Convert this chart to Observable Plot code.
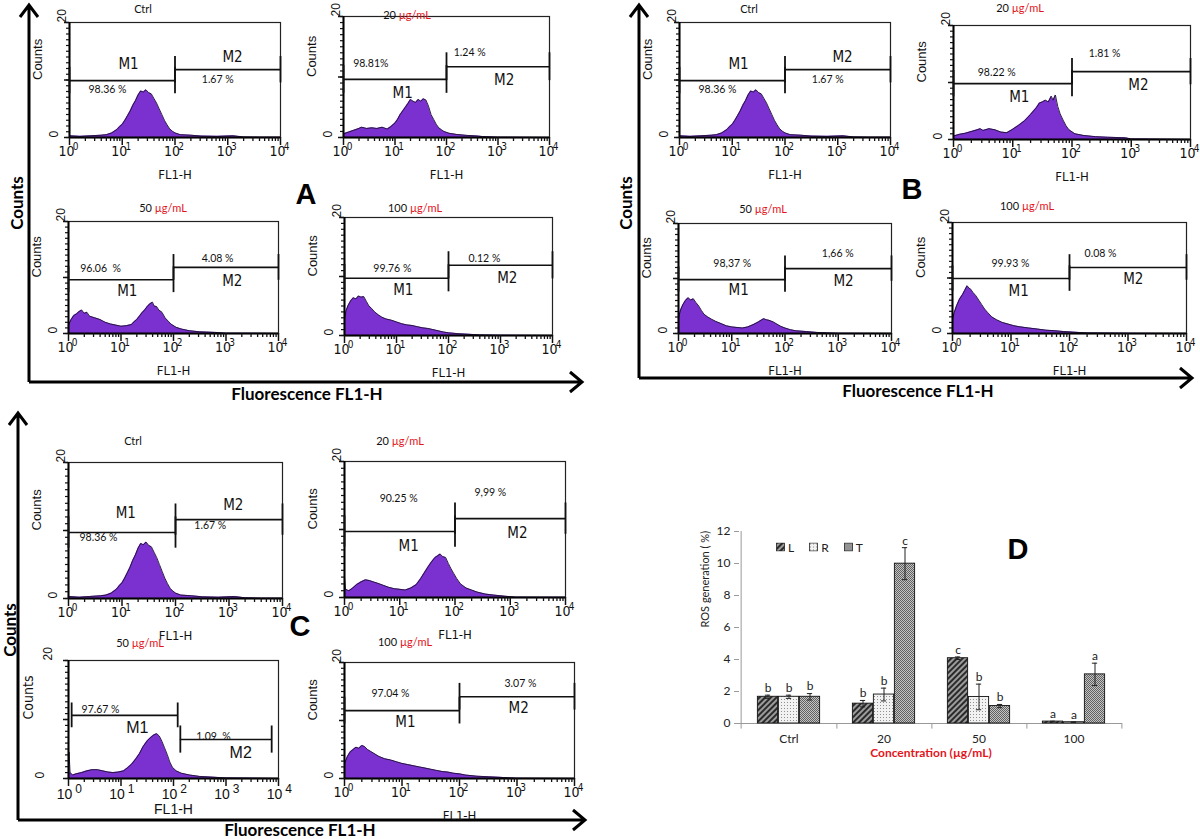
<!DOCTYPE html>
<html><head><meta charset="utf-8">
<script src="https://cdn.jsdelivr.net/npm/d3@7"></script>
<script src="https://cdn.jsdelivr.net/npm/@observablehq/plot@0.6"></script>
<style>
body{margin:0;background:#fff;}
#root{position:relative;width:1200px;height:839px;overflow:hidden;background:#fff;font-family:Lato,"Open Sans",sans-serif;}
.abs{position:absolute;}
.ttl{position:absolute;font-size:11px;font-family:Lato,sans-serif;transform:translate(-50%,-50%);white-space:nowrap;color:#111;}
.red{color:#e3141c;}
.big{position:absolute;font-family:Lato,sans-serif;font-weight:bold;font-size:17px;line-height:17px;white-space:nowrap;transform:translate(-50%,-50%);color:#000;}
.rot{transform:translate(-50%,-50%) rotate(-90deg);}
.letter{position:absolute;font-family:"Liberation Sans",Arial,sans-serif;font-weight:bold;font-size:29px;transform:translate(-50%,-50%);color:#000;}
.leg{position:absolute;display:flex;align-items:center;font-family:Lato,sans-serif;font-size:12px;color:#222;gap:3px;transform:translateY(-50%);}
</style>
</head>
<body>
<div id="root">
<svg style="position:absolute;width:0;height:0" aria-hidden="true">
 <defs>
  <pattern id="patL" width="4" height="4" patternUnits="userSpaceOnUse" patternTransform="rotate(45)">
   <rect width="4" height="4" fill="#9c9c9c"/><rect width="2" height="4" fill="#2a2a2a"/>
  </pattern>
  <pattern id="patR" width="3" height="3" patternUnits="userSpaceOnUse">
   <rect width="3" height="3" fill="#f2f2f2"/><rect x="1" y="1" width="1" height="1" fill="#8f8f8f"/>
  </pattern>
  <pattern id="patT" width="2" height="2" patternUnits="userSpaceOnUse">
   <rect width="2" height="2" fill="#c4c4c4"/><rect width="1" height="1" fill="#616161"/><rect x="1" y="1" width="1" height="1" fill="#616161"/>
  </pattern>
 </defs>
</svg>
<svg class="abs" width="1200" height="839" style="left:0;top:0" fill="none" stroke="#000" stroke-width="3">
 <path d="M29,382 V6 M20,17 L29,5 L38,17"/>
 <path d="M29,382 H581 M570,372 L582,382 L570,392"/>
 <path d="M639,378 V6 M630,17 L639,5 L648,17"/>
 <path d="M639,378 H1191 M1180,368 L1192,378 L1180,388"/>
 <path d="M18,820 V414 M9,425 L18,413 L27,425"/>
 <path d="M18,820 H584 M573,810 L585,820 L573,830"/>
</svg>
<div class="big rot" style="left:16px;top:203px">Counts</div>
<div class="big rot" style="left:625px;top:203px">Counts</div>
<div class="big rot" style="left:9px;top:630px">Counts</div>
<div class="big" style="left:307px;top:393px">Fluorescence FL1-H</div>
<div class="big" style="left:918px;top:390px">Fluorescence FL1-H</div>
<div class="big" style="left:300px;top:829px">Fluorescence FL1-H</div>
<div class="letter" style="left:306px;top:194px">A</div>
<div class="letter" style="left:912px;top:189px">B</div>
<div class="letter" style="left:300px;top:626px">C</div>
<div class="letter" style="left:1018px;top:549px">D</div>
</div>
<script>
// ---------- histogram data (x = log10 FL1-H, y = counts) ----------
const ctrlCounts = [[0,0.3],[0.2,0.2],[0.4,0.3],[0.6,0.4],[0.7,0.5],[0.8,0.8],[0.9,1.4],[0.95,1.9],[1.0,2.3],[1.05,3.0],[1.1,3.8],[1.15,4.6],[1.2,5.6],[1.25,6.4],[1.3,7.4],[1.35,8.1],[1.4,7.9],[1.45,8.3],[1.5,7.8],[1.55,7.6],[1.6,6.8],[1.65,6.0],[1.7,5.0],[1.75,4.0],[1.8,3.0],[1.85,2.2],[1.9,1.5],[1.95,1.1],[2.0,0.8],[2.1,0.5],[2.3,0.4],[2.5,0.25],[2.8,0.2],[3.1,0.3],[3.3,0.1],[3.6,0.05],[4,0.05]];
const a20Counts = [[0,0.6],[0.1,0.9],[0.2,1.2],[0.3,1.5],[0.35,1.7],[0.45,1.5],[0.55,1.6],[0.65,1.5],[0.75,1.7],[0.85,1.4],[0.92,1.8],[1.0,2.4],[1.05,3.0],[1.1,3.8],[1.15,4.4],[1.2,5.0],[1.25,5.6],[1.3,6.3],[1.35,6.0],[1.4,5.8],[1.45,6.3],[1.5,6.0],[1.55,6.4],[1.6,6.2],[1.65,5.2],[1.7,3.8],[1.75,3.0],[1.8,2.2],[1.85,1.6],[1.9,1.3],[1.95,1.0],[2.05,0.7],[2.2,0.5],[2.4,0.35],[2.6,0.25],[2.7,0.15],[3.0,0.05],[4,0.02]];
const a50Counts = [[0,1.5],[0.05,2.5],[0.1,3.2],[0.15,3.5],[0.2,3.9],[0.25,4.2],[0.3,3.6],[0.35,3.8],[0.4,3.1],[0.5,2.8],[0.6,2.5],[0.7,2.0],[0.8,1.7],[0.9,1.5],[1.0,1.3],[1.1,1.4],[1.2,1.6],[1.25,2.1],[1.3,2.5],[1.35,3.1],[1.4,3.7],[1.45,4.2],[1.5,4.8],[1.55,5.3],[1.6,5.6],[1.63,4.9],[1.68,4.8],[1.72,4.2],[1.78,3.8],[1.84,2.8],[1.9,2.2],[1.95,1.7],[2.05,1.1],[2.15,0.8],[2.3,0.5],[2.5,0.3],[2.8,0.2],[3.0,0.05],[4,0.02]];
const a100Counts = [[0,2.8],[0.03,4.2],[0.07,5.1],[0.12,5.9],[0.17,6.4],[0.22,6.2],[0.27,6.7],[0.32,6.5],[0.37,6.6],[0.42,5.8],[0.47,5.0],[0.52,4.6],[0.58,4.0],[0.65,3.5],[0.72,3.1],[0.8,2.8],[0.9,2.6],[1.0,2.3],[1.1,2.0],[1.2,1.8],[1.3,1.7],[1.4,1.5],[1.5,1.3],[1.6,1.2],[1.7,1.0],[1.8,0.8],[1.9,0.6],[2.0,0.45],[2.2,0.3],[2.4,0.2],[2.6,0.1],[3,0.03],[4,0.02]];
const b20Counts = [[0,0.6],[0.1,0.9],[0.2,1.1],[0.3,1.4],[0.4,1.7],[0.45,1.9],[0.5,1.6],[0.6,1.9],[0.7,1.7],[0.8,1.3],[0.9,1.2],[1.0,1.8],[1.1,2.5],[1.2,3.3],[1.3,4.4],[1.4,5.6],[1.45,6.4],[1.5,6.6],[1.55,6.9],[1.6,6.6],[1.65,7.6],[1.68,6.9],[1.72,7.8],[1.76,5.8],[1.8,4.5],[1.85,3.4],[1.9,2.4],[1.95,1.7],[2.05,1.0],[2.2,0.7],[2.4,0.5],[2.6,0.4],[2.9,0.3],[3.0,0.1],[4,0.02]];
const b50Counts = [[0,2.8],[0.04,4.3],[0.08,5.2],[0.13,6.0],[0.18,6.5],[0.23,6.1],[0.28,6.3],[0.33,5.6],[0.38,5.0],[0.43,4.2],[0.48,3.5],[0.55,3.0],[0.62,2.6],[0.7,2.2],[0.8,1.8],[0.9,1.4],[1.0,1.2],[1.1,1.1],[1.2,1.0],[1.3,1.2],[1.4,1.6],[1.5,2.1],[1.55,2.4],[1.6,2.7],[1.65,2.5],[1.7,2.4],[1.78,2.1],[1.85,1.7],[1.92,1.3],[2.0,1.0],[2.1,0.7],[2.2,0.5],[2.4,0.35],[2.6,0.2],[2.8,0.1],[3,0.03],[4,0.02]];
const b100Counts = [[0,2.5],[0.03,3.8],[0.07,5.0],[0.12,6.2],[0.17,7.0],[0.21,7.8],[0.25,8.6],[0.28,8.2],[0.31,8.0],[0.35,7.4],[0.4,6.8],[0.45,6.0],[0.5,5.2],[0.55,4.4],[0.6,3.8],[0.67,3.0],[0.75,2.5],[0.85,2.0],[0.95,1.7],[1.05,1.4],[1.15,1.2],[1.3,1.0],[1.45,0.8],[1.6,0.6],[1.75,0.5],[1.9,0.35],[2.05,0.25],[2.3,0.1],[3,0.03],[4,0.02]];
const c20Counts = [[0,3.0],[0.02,1.2],[0.08,1.0],[0.15,1.4],[0.22,1.9],[0.3,2.3],[0.38,2.6],[0.45,2.5],[0.52,2.3],[0.6,2.1],[0.7,1.8],[0.8,1.5],[0.9,1.3],[1.0,1.2],[1.1,1.1],[1.2,1.4],[1.3,1.9],[1.38,2.8],[1.45,3.7],[1.52,4.6],[1.58,5.3],[1.64,5.9],[1.68,6.1],[1.73,6.4],[1.78,6.0],[1.83,5.9],[1.88,5.0],[1.93,4.2],[1.98,3.5],[2.03,2.8],[2.1,2.0],[2.2,1.4],[2.3,1.1],[2.4,0.8],[2.55,0.5],[2.7,0.35],[2.9,0.2],[3.1,0.05],[4,0.02]];
const c50Counts = [[0,0.5],[0.01,4.5],[0.03,1.0],[0.08,0.6],[0.15,0.8],[0.25,1.0],[0.35,1.3],[0.45,1.5],[0.55,1.5],[0.65,1.3],[0.75,1.1],[0.85,1.0],[0.95,1.1],[1.05,1.3],[1.12,1.8],[1.2,2.4],[1.28,3.3],[1.35,4.2],[1.42,5.4],[1.5,6.4],[1.57,7.0],[1.63,7.4],[1.68,7.6],[1.73,7.2],[1.78,6.3],[1.83,5.2],[1.88,4.1],[1.93,2.8],[1.98,1.9],[2.05,1.3],[2.15,0.9],[2.3,0.6],[2.5,0.35],[2.7,0.25],[3.0,0.1],[4,0.02]];
const c100Counts = [[0,2.5],[0.05,3.8],[0.1,4.6],[0.15,5.0],[0.2,5.4],[0.25,5.2],[0.3,5.7],[0.35,5.5],[0.4,5.0],[0.45,4.7],[0.5,4.4],[0.6,3.8],[0.7,3.4],[0.8,3.2],[0.9,2.9],[1.0,2.6],[1.1,2.4],[1.2,2.2],[1.3,2.0],[1.4,1.8],[1.5,1.6],[1.6,1.4],[1.7,1.2],[1.8,1.1],[1.9,0.9],[2.0,0.8],[2.1,0.6],[2.3,0.4],[2.5,0.3],[2.7,0.2],[3,0.05],[4,0.02]];

const histCounts = [ctrlCounts,a20Counts,a50Counts,a100Counts, ctrlCounts,b20Counts,b50Counts,b100Counts, ctrlCounts,c20Counts,c50Counts,c100Counts];
const histTitles = ["Ctrl","20","50","100","Ctrl","20","50","100","Ctrl","20","50","100"];
const m1Pct = ["98.36 %","98.81%","96.06  %","99.76 %","98.36 %","98.22 %","98,37 %","99.93 %","98.36 %","90.25 %","97.67 %","97.04 %"];
const m2Pct = ["1.67 %","1.24 %","4.08 %","0.12 %","1.67 %","1.81 %","1,66 %","0.08 %","1.67 %","9,99 %","1.09  %","3.07 %"];
const decadeTicks = [0,1,2,3,4];
const countTicks = [0,20];

// layout: frame [left,right,top,bottom] px, title centre, gate levels, label anchors (data units)
const histLayout = [
 {frame:[69,280,22,137], title:[143,8], m:[9.9,11.8], pctAt:[[0.72,8.3],[2.81,10.1]], mAt:[[1.12,12.8],[3.09,13.9]]},
 {frame:[343,549,16,137], title:[407,14], m:[9.6,11.7], pctAt:[[0.53,12.2],[2.45,14.0]], mAt:[[1.15,7.3],[3.12,9.4]]},
 {frame:[68,278,221,333], title:[163,207], m:[9.6,11.8], pctAt:[[0.61,11.6],[2.84,13.4]], mAt:[[1.12,7.5],[3.12,9.3]]},
 {frame:[344,552,217,335], title:[415,207], m:[9.7,11.9], pctAt:[[0.92,11.4],[2.69,13.1]], mAt:[[1.13,7.6],[3.13,9.7]]},
 {frame:[679,890,22,137], title:[749,8], m:[9.9,11.8], pctAt:[[0.72,8.3],[2.81,10.1]], mAt:[[1.12,12.8],[3.09,13.9]]},
 {frame:[953,1190,25,139], title:[1020,7], m:[9.8,11.9], pctAt:[[0.73,11.8],[2.55,15.1]], mAt:[[1.11,7.4],[3.12,9.5]]},
 {frame:[678,891,223,333], title:[763,208], m:[9.8,11.8], pctAt:[[1.01,12.7],[2.99,14.5]], mAt:[[1.13,7.8],[3.1,9.6]]},
 {frame:[952,1186,222,333], title:[1027,205], m:[9.9,11.9], pctAt:[[0.99,12.6],[2.53,14.4]], mAt:[[1.13,7.7],[3.09,9.7]]},
 {frame:[68,282,462,598], title:[133,440], m:[9.7,11.6], pctAt:[[0.56,9.0],[2.65,10.7]], mAt:[[1.07,12.5],[3.08,13.7]]},
 {frame:[344,565,461,597], title:[400,440], m:[9.7,11.6], pctAt:[[0.98,14.6],[2.64,15.4]], mAt:[[1.16,7.5],[3.13,9.4]]},
 {frame:[68,278,660,778], title:[140,642], alt:true, gates:[[0.06,2.08,10.7,2.1],[2.13,3.87,6.6,2.3]], pctAt:[[0.61,11.7],[2.76,7.1]], mAt:[[1.31,8.6],[3.28,4.4]]},
 {frame:[344,574,662,778], title:[405,641], m:[11.7,14.1], pctAt:[[0.8,14.7],[3.06,16.4]], mAt:[[1.06,9.7],[3.03,12.2]]}
];

// ---------- bar chart D data ----------
const categories = ["Ctrl","20","50","100"];
const seriesNames = ["L","R","T"];
const rosL = [1.67,1.24,4.08,0.12];
const rosR = [1.67,1.81,1.66,0.08];
const rosT = [1.67,9.99,1.09,3.07];
const errL = [0.1,0.2,0.08,0.02];
const errR = [0.1,0.4,0.8,0.02];
const errT = [0.2,1.0,0.1,0.7];
const sigL = ["b","b","c","a"];
const sigR = ["b","b","b","a"];
const sigT = ["b","c","b","a"];
const rosTicks = [0,2,4,6,8,10,12];

const PURPLE = "#7a31d0";
const NARROW = "'Liberation Sans Narrow','DejaVu Sans Condensed',sans-serif";
const REG = "'Liberation Sans',Arial,sans-serif";
const root = document.getElementById("root");
const minorX = d3.range(0,4).flatMap(k => d3.range(2,10).map(m => k + Math.log10(m)));
const minorY = d3.range(0,21);

function hist(i) {
  const lay = histLayout[i];
  const [L,R,T,B] = lay.frame;
  const mL = 50, mR = 12, mT = 14, mB = 52;
  const alt = !!lay.alt;
  const data = histCounts[i].map(([lx,c]) => ({lx, c}));
  const gates = (lay.gates ?? [[0,2,lay.m[0],2.3],[2,4,lay.m[1],2.3]]).map(([x1,x2,y,th]) => ({x1,x2,y,th}));
  const gateTicks = gates.flatMap(g => [{x:g.x1,y1:g.y-g.th,y2:g.y+g.th},{x:g.x2,y1:g.y-g.th,y2:g.y+g.th}]);
  const pct = [m1Pct[i], m2Pct[i]].map((t,k) => ({t, x:lay.pctAt[k][0], y:lay.pctAt[k][1]}));
  const mlab = ["M1","M2"].map((t,k) => ({t, x:lay.mAt[k][0], y:lay.mAt[k][1]}));
  const yLabelMarks = countTicks.map(v => Plot.text([String(v)], {frameAnchor: v === 0 ? "bottom-left" : "top-left", dx: alt ? -25 : -12, rotate:-90, fontSize:12, fontFamily:REG, fill:"#111"}));
  const svg = Plot.plot({
    width: R-L+mL+mR, height: B-T+mT+mB,
    marginLeft: mL, marginRight: mR, marginTop: mT, marginBottom: mB,
    x: {domain:[0,4], axis:null},
    y: {domain:[0,20], axis:null},
    style: {background:"transparent", overflow:"visible", fontFamily: NARROW},
    marks: [
      Plot.areaY(data, {x:"lx", y:"c", fill:PURPLE}),
      Plot.lineY(data, {x:"lx", y:"c", stroke:"#1b1030", strokeWidth:0.9}),
      Plot.frame({stroke:"#222", strokeWidth:1.2}),
      Plot.ruleY([0], {stroke:"#000", strokeWidth:2}),
      Plot.ruleX([0], {stroke:"#000", strokeWidth:2}),
      Plot.axisX({ticks:minorX, tickSize:4, tickFormat:() => "", label:null, strokeWidth:1.3, stroke:"#111"}),
      Plot.axisX({ticks:decadeTicks, tickSize:8, tickFormat:() => "", label:null, strokeWidth:1.5, stroke:"#111"}),
      Plot.axisY({ticks:minorY, tickSize:3, tickFormat:() => "", label:null, strokeWidth:1.2, stroke:"#111"}),
      Plot.axisY({ticks:[0,10,20], tickSize:5, tickFormat:() => "", label:null, strokeWidth:1.5, stroke:"#111"}),
      Plot.text(decadeTicks, {x:d => d, text:() => "10", frameAnchor:"bottom", dy: alt ? 20 : 18, dx: alt ? -4 : -3, fontSize:14, fontFamily: alt ? REG : NARROW, fill:"#111"}),
      Plot.text(decadeTicks, {x:d => d, text:d => String(d), frameAnchor:"bottom", dy: alt ? 14 : 12, dx: alt ? 10 : 6, fontSize: alt ? 12 : 10, fontFamily: alt ? REG : NARROW, fill:"#111"}),
      Plot.text(["FL1-H"], {frameAnchor:"bottom", dy: alt ? 35 : 41, fontSize: alt ? 14 : 13, fontFamily: alt ? REG : NARROW, fill:"#111"}),
      Plot.text(["Counts"], {frameAnchor:"left", dx: alt ? -40 : -32, rotate:-90, fontSize: alt ? 14 : 13, fontFamily: alt ? NARROW : REG, fill:"#111"}),
      ...yLabelMarks,
      Plot.ruleY(gates, {y:"y", x1:"x1", x2:"x2", stroke:"#111", strokeWidth:1.6}),
      Plot.ruleX(gateTicks, {x:"x", y1:"y1", y2:"y2", stroke:"#111", strokeWidth:1.8}),
      Plot.text(pct, {x:"x", y:"y", text:"t", fontSize:10.5, fontFamily:"Lato,sans-serif", fill:"#111"}),
      Plot.text(mlab, {x:"x", y:"y", text:"t", fontSize: alt ? 16 : 15, fontFamily: alt ? REG : NARROW, fill:"#111"})
    ]
  });
  svg.style.position = "absolute";
  svg.style.left = (L - mL) + "px";
  svg.style.top = (T - mT) + "px";
  root.appendChild(svg);
  const t = document.createElement("div");
  t.className = "ttl";
  t.style.left = lay.title[0] + "px";
  t.style.top = lay.title[1] + "px";
  t.innerHTML = histTitles[i] === "Ctrl" ? "Ctrl" : histTitles[i] + " <span class='red'>µg/mL</span>";
  root.appendChild(t);
}
histLayout.forEach((_, i) => hist(i));

// ---------- bar chart D ----------
const vals = [rosL, rosR, rosT], errs = [errL, errR, errT], sigs = [sigL, sigR, sigT];
const rows = categories.flatMap((cat, ci) => seriesNames.map((s, si) => ({cat, s, si, v: vals[si][ci], e: errs[si][ci], sig: sigs[si][ci]})));
const BW = 21, BAND = 383/4, inset = (BAND - BW)/2, capInset = (BAND - 6)/2;
const barMarks = seriesNames.flatMap((s, si) => {
  const d = rows.filter(r => r.s === s);
  const dx = (si - 1) * BW;
  return [
    Plot.barY(d, {x:"cat", y:"v", fill:`url(#pat${s})`, stroke:"#111", strokeWidth:0.9, insetLeft:inset, insetRight:inset, dx}),
    Plot.ruleX(d, {x:"cat", y1:r => r.v - r.e, y2:r => r.v + r.e, stroke:"#222", strokeWidth:1, dx}),
    Plot.tickY(d, {x:"cat", y:r => r.v + r.e, stroke:"#222", strokeWidth:1, insetLeft:capInset, insetRight:capInset, dx}),
    Plot.tickY(d, {x:"cat", y:r => r.v - r.e, stroke:"#222", strokeWidth:1, insetLeft:capInset, insetRight:capInset, dx}),
    Plot.text(d, {x:"cat", y:r => r.v + r.e, text:"sig", dy:-7, dx, fontSize:12, fill:"#222"})
  ];
});
const bar = Plot.plot({
  width: 452, height: 258, marginLeft: 49, marginRight: 20, marginTop: 16, marginBottom: 50,
  x: {domain: categories, padding: 0, axis: null},
  y: {domain: [0,12], axis: null},
  style: {background:"transparent", overflow:"visible", fontFamily:"Lato,sans-serif"},
  marks: [
    Plot.axisY({ticks: rosTicks, tickSize: 5, tickPadding: 4, label: null, stroke:"#999", fill:"#222", fontSize:12}),
    Plot.ruleX([categories[0]], {x:d => d, y1:-0.35, y2:12, dx:-BAND/2, stroke:"#999"}),
    Plot.ruleX(categories, {x:d => d, y1:-0.35, y2:0, dx:BAND/2, stroke:"#999"}),
    Plot.ruleY([0], {stroke:"#999"}),
    Plot.axisX({tickSize: 0, tickPadding: 11, label: null, fontSize: 12, fill:"#222"}),
    ...barMarks,
    Plot.text(["Concentration (µg/mL)"], {frameAnchor:"bottom", dy:33, fill:"#e3141c", fontWeight:"bold", fontSize:12}),
    Plot.text(["ROS generation ( %)"], {frameAnchor:"left", dx:-34, rotate:-90, fontSize:11, fill:"#222"})
  ]
});
bar.style.position = "absolute";
bar.style.left = "690px";
bar.style.top = "515px";
root.appendChild(bar);

// legend
const legend = document.createElement("div");
legend.className = "leg";
legend.style.left = "776px";
legend.style.top = "547px";
legend.innerHTML = seriesNames.map(s => `<svg width="9" height="9"><rect x="0.5" y="0.5" width="8" height="8" fill="url(#pat${s})" stroke="#222" stroke-width="0.8"/></svg><span style="margin-right:12px">${s}</span>`).join("");
root.appendChild(legend);
</script>
</body></html>
